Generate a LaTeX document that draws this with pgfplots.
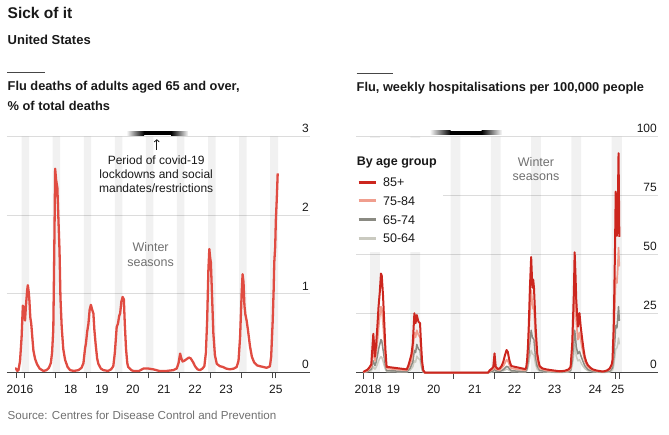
\documentclass[border=0pt]{standalone}
\usepackage{fontspec}
\setmainfont{Liberation Sans}
\usepackage{pgfplots}
\pgfplotsset{compat=1.18}
\usepackage{pgfplotstable}
\usetikzlibrary{arrows.meta}

\definecolor{leftred}{RGB}{224,76,66}
\definecolor{red85}{RGB}{204,38,30}
\definecolor{sal}{RGB}{240,158,142}
\definecolor{g65}{RGB}{138,138,130}
\definecolor{g50}{RGB}{202,202,192}
\definecolor{gridc}{RGB}{220,220,220}
\definecolor{axisc}{RGB}{70,70,70}
\definecolor{txtgray}{RGB}{112,112,112}
\definecolor{txt}{RGB}{25,25,25}
\definecolor{fadec}{RGB}{250,250,250}

\newcommand{\ticksize}{\fontsize{12}{14}\selectfont}

\pgfplotstableread{
x y
2016.71 0.05
2016.74 0.05
2016.78 0.02
2016.82 0.03
2016.87 0.15
2016.92 0.45
2016.96 0.85
2016.99 0.83
2017.03 0.66
2017.06 0.85
2017.10 1.05
2017.12 1.11
2017.15 1.02
2017.17 0.92
2017.20 0.70
2017.23 0.62
2017.27 0.42
2017.30 0.28
2017.35 0.18
2017.41 0.11
2017.50 0.05
2017.62 0.02
2017.72 0.03
2017.80 0.06
2017.86 0.12
2017.90 0.25
2017.94 0.55
2017.97 1.50
2018.00 2.59
2018.03 2.45
2018.07 2.35
2018.10 2.00
2018.14 1.55
2018.17 0.95
2018.21 0.58
2018.26 0.30
2018.32 0.16
2018.40 0.07
2018.48 0.03
2018.60 0.02
2018.75 0.03
2018.85 0.06
2018.91 0.12
2018.96 0.30
2018.99 0.37
2019.03 0.52
2019.07 0.62
2019.11 0.80
2019.15 0.86
2019.19 0.80
2019.23 0.75
2019.26 0.55
2019.30 0.37
2019.35 0.18
2019.39 0.11
2019.47 0.05
2019.55 0.03
2019.70 0.02
2019.80 0.04
2019.87 0.08
2019.92 0.25
2019.98 0.58
2020.02 0.62
2020.06 0.72
2020.09 0.75
2020.13 0.90
2020.17 0.96
2020.21 0.93
2020.24 0.62
2020.28 0.30
2020.32 0.12
2020.35 0.07
2020.45 0.03
2020.52 0.02
2020.70 0.02
2020.84 0.05
2021.00 0.05
2021.16 0.04
2021.35 0.02
2021.59 0.02
2021.80 0.03
2021.91 0.05
2021.97 0.12
2022.02 0.24
2022.06 0.18
2022.10 0.14
2022.16 0.15
2022.23 0.17
2022.30 0.19
2022.36 0.18
2022.44 0.13
2022.50 0.08
2022.58 0.04
2022.66 0.03
2022.74 0.05
2022.80 0.08
2022.85 0.25
2022.89 0.66
2022.93 1.30
2022.96 1.57
2022.99 1.45
2023.01 1.40
2023.05 0.95
2023.09 0.50
2023.14 0.22
2023.20 0.11
2023.30 0.08
2023.40 0.07
2023.50 0.05
2023.62 0.04
2023.75 0.05
2023.84 0.07
2023.90 0.15
2023.95 0.45
2024.00 1.00
2024.03 1.25
2024.06 1.15
2024.09 0.85
2024.12 0.74
2024.16 0.66
2024.20 0.55
2024.27 0.33
2024.33 0.20
2024.40 0.13
2024.50 0.09
2024.59 0.08
2024.70 0.07
2024.80 0.06
2024.87 0.07
2024.91 0.08
2024.95 0.20
2025.00 0.66
2025.03 1.05
2025.05 1.40
2025.08 1.60
2025.10 1.93
2025.13 2.20
2025.16 2.53
}\deaths

\pgfplotstableread{
x y
2018.75 0.3
2018.80 0.8
2018.85 1.2
2018.90 2.2
2018.95 3.5
2019.00 16.5
2019.04 6.8
2019.07 12
2019.10 19.5
2019.13 28
2019.16 34
2019.19 42
2019.21 41
2019.24 33
2019.27 22
2019.30 10
2019.33 2.5
2019.83 1.4
2019.87 3
2019.91 5.4
2019.95 8
2019.98 12.4
2020.02 25.2
2020.05 21
2020.08 24.4
2020.12 21.6
2020.16 21
2020.18 14
2020.21 5
2020.24 1.1
2020.28 0
2021.85 0
2021.89 1
2021.95 1.8
2021.98 2.5
2022.01 8.2
2022.04 2.5
2022.09 1.6
2022.14 1.8
2022.19 3.0
2022.23 4.7
2022.27 7.5
2022.31 9.6
2022.34 8.8
2022.37 6
2022.40 4
2022.43 2.8
2022.78 1.5
2022.80 2.5
2022.82 5.4
2022.84 11
2022.86 19.5
2022.89 36.4
2022.92 49
2022.95 36
2022.97 39.5
2022.99 36
2023.01 28
2023.03 19.5
2023.07 8.2
2023.10 5
2023.13 2.8
2023.20 1.8
2023.30 1.4
2023.45 1.0
2023.63 0.6
2023.75 0.8
2023.85 1.4
2023.90 2.5
2023.94 12.4
2023.98 33.6
2024.00 51
2024.02 42
2024.04 30.8
2024.08 19.5
2024.12 25.2
2024.15 19.5
2024.19 13.9
2024.22 10
2024.25 6.8
2024.29 4.5
2024.33 3.2
2024.40 2
2024.45 1.4
2024.55 0.9
2024.70 0.5
2024.80 0.9
2024.87 1.8
2024.92 3.5
2024.94 5.4
2024.97 19.5
2025.00 50
2025.02 76.7
2025.05 58
2025.07 68
2025.09 93
2025.11 57.6
}\hospA

\pgfplotstableread{
x y
2018.75 0.2
2018.85 0.8
2018.95 2.5
2019.00 10
2019.04 5
2019.07 8
2019.10 13
2019.13 19
2019.16 24
2019.19 28
2019.21 27
2019.24 21
2019.27 14
2019.30 6
2019.33 1.8
2019.83 1.0
2019.87 2
2019.91 3.5
2019.95 5.5
2019.98 9
2020.02 17
2020.05 15
2020.08 18
2020.12 16
2020.16 15
2020.18 10
2020.21 3.5
2020.24 0.7
2020.28 0
2021.85 0
2021.89 0.7
2021.98 1.5
2022.01 4.5
2022.04 1.5
2022.14 1.1
2022.23 2.8
2022.31 5.5
2022.34 5
2022.40 2.5
2022.43 1.8
2022.78 1.0
2022.82 3.5
2022.86 13
2022.89 25
2022.92 35
2022.95 29
2022.97 27
2022.99 28
2023.01 20
2023.03 13
2023.07 5.5
2023.13 1.8
2023.30 0.9
2023.63 0.4
2023.85 0.9
2023.90 1.8
2023.94 9
2023.98 25
2024.00 37
2024.02 30
2024.04 22
2024.08 14
2024.12 17
2024.15 14
2024.19 10
2024.25 5
2024.33 2.3
2024.45 1
2024.70 0.4
2024.87 1.2
2024.94 3.8
2024.97 13
2025.00 30
2025.02 40
2025.05 38
2025.07 44
2025.09 53
2025.11 45
}\hospB

\pgfplotstableread{
x y
2018.75 0.1
2018.85 0.5
2018.95 1.5
2019.00 5
2019.04 3
2019.07 4.5
2019.10 7
2019.13 10
2019.16 12
2019.19 14
2019.21 13.5
2019.24 10
2019.27 6.5
2019.30 3
2019.33 0.9
2019.83 0.5
2019.91 1.8
2019.98 4.5
2020.02 9.5
2020.05 8.5
2020.08 12
2020.12 10
2020.16 9.5
2020.18 6
2020.21 2
2020.24 0.4
2020.28 0
2021.85 0
2021.98 0.8
2022.01 2.5
2022.04 0.8
2022.14 0.5
2022.23 1.3
2022.31 2.7
2022.34 2.5
2022.43 0.8
2022.78 0.5
2022.82 1.8
2022.86 7
2022.89 13
2022.92 18
2022.95 15
2022.99 14
2023.01 10
2023.03 6.5
2023.07 2.8
2023.13 1
2023.30 0.5
2023.63 0.2
2023.85 0.5
2023.90 1
2023.94 5
2023.98 13
2024.00 18
2024.02 15
2024.04 11
2024.08 8
2024.12 9
2024.15 7.5
2024.19 5.5
2024.25 3
2024.33 1.3
2024.45 0.6
2024.70 0.2
2024.87 0.6
2024.94 2
2024.97 6
2025.00 14
2025.02 20
2025.05 19
2025.07 23
2025.09 28
2025.11 22
}\hospC

\pgfplotstableread{
x y
2018.75 0.1
2018.95 0.8
2019.00 2.5
2019.04 1.5
2019.07 2.3
2019.10 3.5
2019.13 5
2019.16 6
2019.19 6.8
2019.21 6.5
2019.24 5
2019.27 3
2019.30 1.5
2019.33 0.5
2019.83 0.3
2019.91 1
2019.98 2.5
2020.02 5
2020.05 4.5
2020.08 7
2020.12 6
2020.16 5.5
2020.18 3.5
2020.21 1
2020.24 0.2
2020.28 0
2021.85 0
2021.98 0.4
2022.01 1.3
2022.04 0.5
2022.23 0.8
2022.31 1.5
2022.34 1.4
2022.43 0.5
2022.78 0.3
2022.82 1
2022.86 4
2022.89 7
2022.92 9.5
2022.95 8
2022.99 7.5
2023.01 5.5
2023.03 3.5
2023.07 1.5
2023.13 0.5
2023.30 0.3
2023.63 0.1
2023.85 0.3
2023.90 0.6
2023.94 3
2023.98 8
2024.00 12
2024.02 10
2024.04 7
2024.08 5
2024.12 5.5
2024.15 4.5
2024.19 3.2
2024.25 1.8
2024.33 0.8
2024.45 0.4
2024.70 0.1
2024.87 0.3
2024.94 1
2024.97 3
2025.00 7
2025.02 10
2025.05 10.5
2025.07 12
2025.09 14.7
2025.11 12
}\hospD

\pgfplotsset{
  econ/.style={
    scale only axis, height=236pt, anchor=south west,
    axis x line*=bottom, axis y line*=right,
    y axis line style={draw=none},
    x axis line style={draw=axisc, line width=0.8pt},
    ytick style={draw=none},
    major x tick style={draw=none},
    minor x tick style={draw=axisc, line width=0.8pt},
    tick align=outside, major tick length=0pt, minor tick length=6pt,
    ymajorgrids, grid style={draw=gridc, line width=0.7pt},
    enlargelimits=false, clip=false,
    tick label style={font=\ticksize, text=txt},
    xticklabel style={anchor=north, inner sep=0pt, yshift=-12pt},
    yticklabel style={anchor=south east, inner sep=0pt, xshift=-1pt, yshift=3.5pt},
    every axis plot/.append style={line join=round},
  },
  bandstyle/.style={const plot, fill=black, fill opacity=0.055, draw=none, forget plot},
}

\begin{document}
\begin{tikzpicture}
\path[use as bounding box] (0,0) rectangle (669pt,435pt);

% titles
\node[anchor=base west, inner sep=0pt, font=\bfseries\fontsize{15.5}{18}\selectfont, text=txt] at (7.5pt,416.7pt) {Sick of it};
\node[anchor=base west, inner sep=0pt, font=\bfseries\fontsize{13}{15}\selectfont, text=txt] at (7.5pt,390.7pt) {United States};
\draw[axisc, line width=1pt] (7pt,362.5pt) -- (45pt,362.5pt);
\draw[axisc, line width=1pt] (356.5pt,361.5pt) -- (393pt,361.5pt);
\node[anchor=base west, inner sep=0pt, font=\bfseries\fontsize{12.8}{15}\selectfont, text=txt] at (7.5pt,344.3pt) {Flu deaths of adults aged 65 and over,};
\node[anchor=base west, inner sep=0pt, font=\bfseries\fontsize{12.8}{15}\selectfont, text=txt] at (7.5pt,324.5pt) {\% of total deaths};
\node[anchor=base west, inner sep=0pt, font=\bfseries\fontsize{12.8}{15}\selectfont, text=txt] at (356.5pt,343.3pt) {Flu, weekly hospitalisations per 100,000 people};
\node[anchor=base west, inner sep=0pt, font=\fontsize{11.6}{14}\selectfont, text=txtgray] at (7.5pt,15pt) {Source: Centres for Disease Control and Prevention};

% ---------- left panel ----------
\begin{axis}[econ, at={(7pt,62.5pt)}, width=303pt,
  xmin=2016.45, xmax=2026.2, ymin=0, ymax=3,
  ytick={0,1,2,3}, yticklabels={0,1,2,3},
  xtick={2016.87,2018.5,2019.5,2020.5,2021.5,2022.5,2023.5,2025.1},
  xticklabels={2016,18,19,20,21,22,23,25},
  minor xtick={2016.74,2017,2018,2019,2020,2021,2022,2023,2024,2025,2025.1}]
\addplot[bandstyle] coordinates {
 (2016.45,0) (2016.92,3) (2017.16,0) (2017.92,3) (2018.16,0) (2018.92,3) (2019.16,0)
 (2019.92,3) (2020.16,0) (2020.92,3) (2021.16,0) (2021.92,3) (2022.16,0) (2022.92,3)
 (2023.16,0) (2023.92,3) (2024.16,0) (2024.92,3) (2025.17,0) (2026.2,0)} \closedcycle;
\addplot[leftred, line width=2.3pt] table[x=x,y=y] {\deaths};
\shade[left color=fadec, right color=black] ([yshift=1.2pt]axis cs:2020.30,3) rectangle ([yshift=5.3pt]axis cs:2020.86,3);
\fill[black] ([yshift=1pt]axis cs:2020.85,3) rectangle ([yshift=5.5pt]axis cs:2021.74,3);
\shade[left color=black, right color=fadec] ([yshift=1.2pt]axis cs:2021.73,3) rectangle ([yshift=5.3pt]axis cs:2022.28,3);
\draw[txt, line width=0.8pt, -{To[length=3pt,width=5.5pt]}] (axis cs:2021.27,2.83) -- (axis cs:2021.27,2.965);
\node[anchor=north, inner sep=0pt, align=center, text=txt, font=\fontsize{12}{13.7}\selectfont] at (axis cs:2021.25,2.752) {Period of covid-19\\lockdowns and social\\mandates/restrictions};
\node[anchor=north, inner sep=0pt, align=center, text=txtgray, font=\fontsize{12.5}{15}\selectfont] at (axis cs:2021.07,1.65) {Winter\\seasons};
\end{axis}

% ---------- right panel ----------
\begin{axis}[econ, at={(356pt,62.3pt)}, width=302pt,
  xmin=2018.57, xmax=2026.07, ymin=0, ymax=100,
  ytick={0,25,50,75,100}, yticklabels={0,25,50,75,100},
  xtick={2018.87,2019.5,2020.5,2021.52,2022.51,2023.5,2024.51,2025.07},
  xticklabels={2018,19,20,21,22,23,24,25},
  minor xtick={2018.75,2019,2020,2021,2022,2023,2024,2025,2025.11},
  legend style={at={(0.003,0.8305)}, anchor=north west, draw=none, fill=none, inner sep=0pt,
    row sep=7.6pt, column sep=5pt, font=\fontsize{12.5}{14}\selectfont,
    nodes={inner sep=1pt, text height=9pt, text depth=0pt, text=txt}},
  legend cell align=left,
  legend image code/.code={\draw[#1, line width=3pt] (0pt,0pt) -- (17pt,0pt);}]
\addplot[bandstyle] coordinates {
 (2018.57,0) (2018.92,100) (2019.16,0) (2019.92,100) (2020.16,0) (2020.92,100) (2021.16,0)
 (2021.92,100) (2022.16,0) (2022.92,100) (2023.16,0) (2023.92,100) (2024.16,0) (2024.92,100)
 (2025.17,0) (2026.07,0)} \closedcycle;
\fill[white] (rel axis cs:0,0.51) rectangle (rel axis cs:0.288,0.9965);
\addlegendimage{red85}
\addlegendentry{85+}
\addlegendimage{sal}
\addlegendentry{75-84}
\addlegendimage{g65}
\addlegendentry{65-74}
\addlegendimage{g50}
\addlegendentry{50-64}
\addplot[g50, line width=1.5pt, forget plot] table[x=x,y=y] {\hospD};
\addplot[g65, line width=1.5pt, forget plot] table[x=x,y=y] {\hospC};
\addplot[sal, line width=1.7pt, forget plot] table[x=x,y=y] {\hospB};
\addplot[red85, line width=2pt, forget plot] table[x=x,y=y] {\hospA};
\shade[left color=fadec, right color=black] ([yshift=1.7pt]axis cs:2020.41,100) rectangle ([yshift=5.8pt]axis cs:2020.92,100);
\fill[black] ([yshift=1.5pt]axis cs:2020.91,100) rectangle ([yshift=6pt]axis cs:2021.70,100);
\shade[left color=black, right color=fadec] ([yshift=1.7pt]axis cs:2021.69,100) rectangle ([yshift=5.8pt]axis cs:2022.19,100);
\node[anchor=base west, inner sep=0pt, font=\bfseries\fontsize{12.5}{15}\selectfont, text=txt] at (rel axis cs:0.002,0.88) {By age group};
\node[anchor=north, inner sep=0pt, align=center, text=txtgray, font=\fontsize{12.5}{14.5}\selectfont] at (axis cs:2023.04,91.4) {Winter\\seasons};
\end{axis}
\end{tikzpicture}
\end{document}
